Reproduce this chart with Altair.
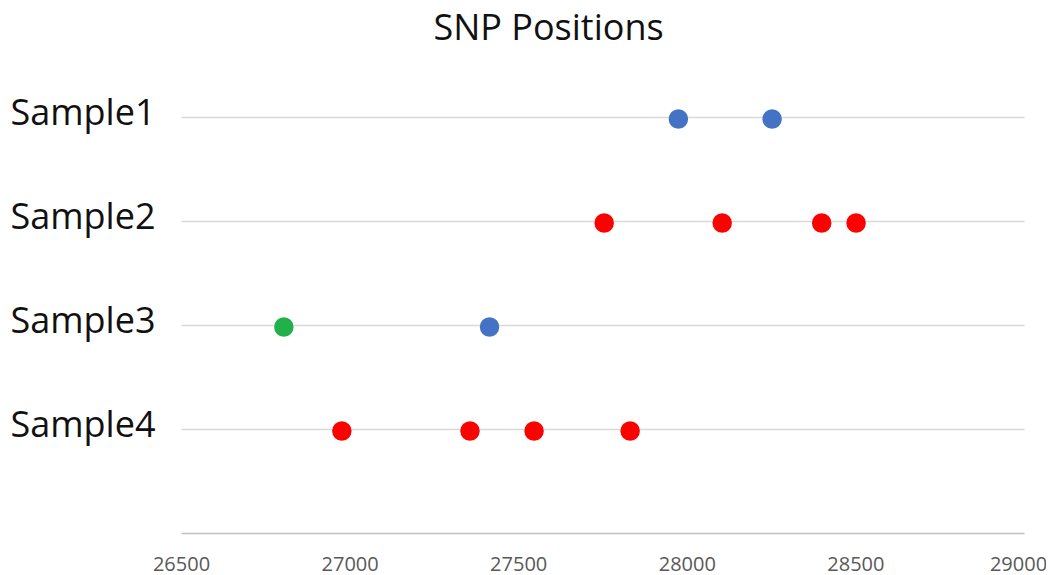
import altair as alt
import pandas as pd

samples = ["Sample1", "Sample1",
           "Sample2", "Sample2", "Sample2", "Sample2",
           "Sample3", "Sample3",
           "Sample4", "Sample4", "Sample4", "Sample4"]
positions = [27975, 28253,
             27755, 28105, 28400, 28502,
             26805, 27415,
             26977, 27357, 27547, 27832]
groups = ["blue", "blue",
          "red", "red", "red", "red",
          "green", "blue",
          "red", "red", "red", "red"]

sample_names = ["Sample1", "Sample2", "Sample3", "Sample4"]
sample_levels = [4, 3, 2, 1]
x_ticks = [26500, 27000, 27500, 28000, 28500, 29000]

level_of = dict(zip(sample_names, sample_levels))
df = pd.DataFrame({
    "sample": samples,
    "position": positions,
    "group": groups,
    "level": [level_of[s] for s in samples],
})

label_expr = ("datum.value == 4 ? 'Sample1' : datum.value == 3 ? 'Sample2' : "
              "datum.value == 2 ? 'Sample3' : datum.value == 1 ? 'Sample4' : ''")

chart = alt.Chart(df).mark_circle(size=380, opacity=1, yOffset=2).encode(
    x=alt.X("position:Q",
            scale=alt.Scale(domain=[26500, 29000], nice=False, zero=False),
            axis=alt.Axis(values=x_ticks, title=None, grid=False, ticks=False,
                          domain=True, domainColor="#bfbfbf", domainWidth=1.5,
                          labelFont="Open Sans", labelFontSize=20,
                          labelColor="#595959", labelPadding=37,
                          labelBaseline="alphabetic", format="d",
                          labelFlush=False,
                          labelOffset=alt.condition("datum.value == 29000",
                                                    alt.value(-6), alt.value(0)))),
    y=alt.Y("level:Q",
            scale=alt.Scale(domain=[0, 4], nice=False),
            axis=alt.Axis(values=sample_levels, title=None, grid=True,
                          gridColor="#d9d9d9", gridWidth=1.5, ticks=False,
                          domain=False, labelExpr=label_expr,
                          labelFont="Open Sans", labelFontSize=36,
                          labelColor="#111111", labelPadding=26,
                          labelBaseline="alphabetic", labelOffset=7)),
    color=alt.Color("group:N",
                    scale=alt.Scale(domain=["blue", "red", "green"],
                                    range=["#4472C4", "#FF0000", "#22B04B"]),
                    legend=None),
).properties(
    width=843,
    height=416,
    title=alt.TitleParams("SNP Positions", font="Open Sans", fontSize=36,
                          fontWeight="normal", color="#111111",
                          anchor="middle", baseline="alphabetic",
                          offset=19, dx=-54),
    autosize=alt.AutoSizeParams(type="none"),
    padding={"left": 173, "top": 109, "right": 22, "bottom": 42},
).configure_view(stroke=None)

chart.save("out.html", embed_options={"renderer": "svg", "actions": False})
